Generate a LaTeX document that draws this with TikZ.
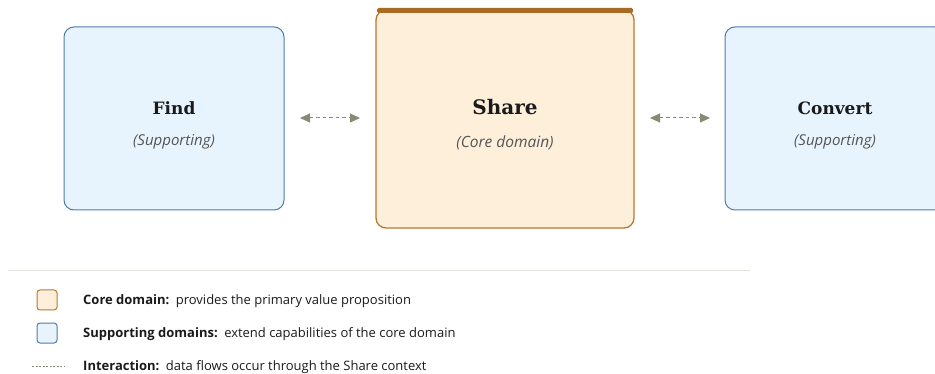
\documentclass[tikz,border=0pt]{standalone}
\usepackage{fontspec}
\setmainfont{Open Sans}
\newfontfamily\slab{DejaVu Serif}
\usetikzlibrary{arrows.meta}
\definecolor{supfill}{HTML}{E8F4FD}
\definecolor{supdraw}{HTML}{4F7CA6}
\definecolor{corefill}{HTML}{FDEFD9}
\definecolor{coredraw}{HTML}{B8782F}
\definecolor{corebar}{HTML}{A96A24}
\definecolor{arrowc}{HTML}{8A8A74}
\definecolor{subc}{HTML}{555555}
\definecolor{titlec}{HTML}{1A1A1A}
\definecolor{rulec}{HTML}{E4E4DE}
\tikzset{
  supbox/.style={draw=supdraw, fill=supfill, line width=1pt, rounded corners=10pt},
  corebox/.style={draw=coredraw, fill=corefill, line width=1.3pt, rounded corners=10pt},
  titletxt/.style={font=\slab\bfseries\fontsize{17}{20}\selectfont, text=titlec},
  subtxt/.style={font=\itshape\fontsize{15}{18}\selectfont, text=subc},
  flow/.style={arrowc, line width=1pt, dash pattern=on 3.5pt off 3pt, {Triangle[length=10pt,width=9pt]}-{Triangle[length=10pt,width=9pt]}},
  legtxt/.style={anchor=west, font=\fontsize{13}{16}\selectfont, text=titlec, inner sep=0pt},
  swatch/.style={rounded corners=3pt, line width=1pt}
}
\begin{document}
\begin{tikzpicture}[x=1pt,y=-1pt]
\useasboundingbox (0,0) rectangle (935,374);
\begin{scope}
\clip (0,0) rectangle (935,374);
% boxes
\draw[supbox] (64,27) rectangle (284,210);
\node[titletxt] (findt) at (174,108) {Find};
\node[subtxt] (finds) at (174,141.5) {(Supporting)};
\draw[corebox] (376,10) rectangle (634,228);
\fill[corebar, rounded corners=1.5pt] (377,8) rectangle (633,13);
\node[titletxt, font=\slab\bfseries\fontsize{20}{24}\selectfont] (sharet) at (505,107) {Share};
\node[subtxt, font=\itshape\fontsize{15.5}{18}\selectfont] (shares) at (505,143) {(Core domain)};
\draw[supbox] (725,27) rectangle (945,210);
\node[titletxt] (convt) at (835,108) {Convert};
\node[subtxt] (convs) at (835,141.5) {(Supporting)};
\end{scope}
\coordinate (a1) at (300,118);
\coordinate (a2) at (360,118);
\coordinate (b1) at (650,118);
\coordinate (b2) at (710,118);
\draw[flow] (a1) -- (a2);
\draw[flow] (b1) -- (b2);
% divider
\draw[rulec, line width=1pt] (8,271) -- (750,271);
% legend
\draw[swatch, draw=coredraw, fill=corefill] (37,290) rectangle (57,310);
\node[legtxt] (l1) at (83,301) {\textbf{Core domain:}\hspace{0.5em}provides the primary value proposition};
\draw[swatch, draw=supdraw, fill=supfill] (37,323) rectangle (57,343);
\node[legtxt] (l2) at (83,334) {\textbf{Supporting domains:}\hspace{0.5em}extend capabilities of the core domain};
\coordinate (d1) at (32,366);
\coordinate (d2) at (64,366);
\draw[arrowc, line width=0.8pt, dash pattern=on 2pt off 1.5pt] (d1) -- (d2);
\node[legtxt] (l3) at (83,367) {\textbf{Interaction:}\hspace{0.5em}data flows occur through the Share context};
\end{tikzpicture}
\end{document}
